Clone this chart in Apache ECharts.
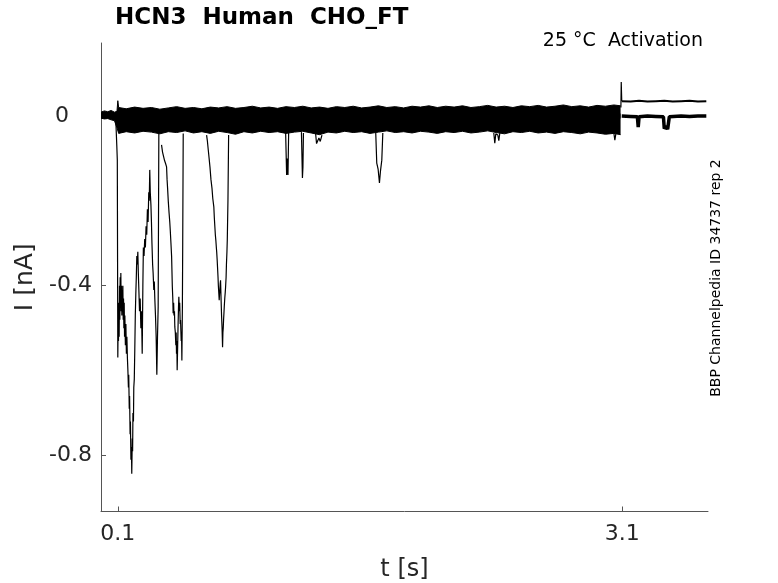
<!DOCTYPE html>
<html>
<head>
<meta charset="utf-8">
<script src="https://cdn.jsdelivr.net/npm/echarts@6/dist/echarts.min.js"></script>
<style>
  html, body { margin: 0; padding: 0; background: #fff; }
  #chart { width: 778px; height: 583px; }
</style>
</head>
<body>
<div id="chart"></div>
<script>
// tick positions
const xTicks = [0.1, 3.1];
const yTicks = [-0.8, -0.4, 0];

// envelope of the noisy baseline band (all sweeps overlaid), [t s, I nA]
const bandTop = [
    [0.0, 0.009], [0.02, 0.012], [0.04, 0.010], [0.06, 0.013], [0.08, 0.009], [0.095, 0.011],
    [0.100, 0.036], [0.105, 0.020], [0.15, 0.017], [0.20, 0.021], [0.25, 0.018], [0.30, 0.020],
    [0.35, 0.016], [0.40, 0.019], [0.45, 0.022], [0.50, 0.018], [0.55, 0.020], [0.60, 0.017],
    [0.65, 0.021], [0.70, 0.019], [0.75, 0.022], [0.80, 0.018], [0.85, 0.020], [0.90, 0.023],
    [0.95, 0.019], [1.00, 0.021], [1.05, 0.018], [1.10, 0.022], [1.15, 0.020], [1.20, 0.023],
    [1.25, 0.019], [1.30, 0.021], [1.35, 0.018], [1.40, 0.022], [1.45, 0.020], [1.50, 0.023],
    [1.55, 0.019], [1.60, 0.021], [1.65, 0.024], [1.70, 0.020], [1.75, 0.022], [1.80, 0.019],
    [1.85, 0.023], [1.90, 0.021], [1.95, 0.024], [2.00, 0.020], [2.05, 0.023], [2.10, 0.021],
    [2.15, 0.024], [2.20, 0.020], [2.25, 0.022], [2.30, 0.025], [2.35, 0.021], [2.40, 0.023],
    [2.45, 0.020], [2.50, 0.024], [2.55, 0.022], [2.60, 0.025], [2.65, 0.021], [2.70, 0.023],
    [2.75, 0.026], [2.80, 0.022], [2.85, 0.024], [2.90, 0.021], [2.95, 0.025], [3.00, 0.023],
    [3.05, 0.026], [3.09, 0.024]
];
const bandBottom = [
    [0.0, -0.005], [0.02, -0.007], [0.04, -0.006], [0.06, -0.009], [0.08, -0.011], [0.095, -0.028],
    [0.105, -0.041], [0.15, -0.037], [0.20, -0.040], [0.25, -0.036], [0.30, -0.038], [0.35, -0.042],
    [0.40, -0.037], [0.45, -0.039], [0.50, -0.035], [0.55, -0.040], [0.60, -0.037], [0.65, -0.041],
    [0.70, -0.036], [0.75, -0.039], [0.80, -0.043], [0.85, -0.037], [0.90, -0.040], [0.95, -0.036],
    [1.00, -0.039], [1.05, -0.037], [1.10, -0.041], [1.15, -0.038], [1.20, -0.036], [1.25, -0.040],
    [1.30, -0.044], [1.35, -0.038], [1.40, -0.040], [1.45, -0.036], [1.50, -0.039], [1.55, -0.037],
    [1.60, -0.041], [1.65, -0.038], [1.70, -0.035], [1.75, -0.039], [1.80, -0.037], [1.85, -0.040],
    [1.90, -0.036], [1.95, -0.038], [2.00, -0.041], [2.05, -0.037], [2.10, -0.039], [2.15, -0.036],
    [2.20, -0.040], [2.25, -0.038], [2.30, -0.035], [2.35, -0.039], [2.40, -0.042], [2.45, -0.037],
    [2.50, -0.039], [2.55, -0.036], [2.60, -0.040], [2.65, -0.038], [2.70, -0.041], [2.75, -0.037],
    [2.80, -0.039], [2.85, -0.042], [2.90, -0.038], [2.95, -0.040], [3.00, -0.043], [3.05, -0.041],
    [3.09, -0.044]
];

// large inward excursions of single sweeps
const dropA = [
    [0.088, -0.010], [0.094, -0.070], [0.097, -0.104], [0.100, -0.569], [0.102, -0.480],
    [0.104, -0.530], [0.106, -0.440], [0.108, -0.520], [0.110, -0.400], [0.112, -0.480],
    [0.114, -0.380], [0.116, -0.440], [0.118, -0.370], [0.120, -0.460], [0.122, -0.400],
    [0.124, -0.470], [0.126, -0.410], [0.128, -0.450], [0.130, -0.400], [0.132, -0.480],
    [0.134, -0.430], [0.136, -0.500], [0.138, -0.440], [0.140, -0.520], [0.142, -0.470],
    [0.145, -0.540], [0.148, -0.490], [0.151, -0.560], [0.154, -0.520], [0.157, -0.570],
    [0.160, -0.600], [0.163, -0.640], [0.165, -0.610], [0.168, -0.690], [0.170, -0.660],
    [0.173, -0.750], [0.175, -0.720], [0.178, -0.810], [0.181, -0.780], [0.183, -0.843],
    [0.186, -0.760], [0.188, -0.790], [0.190, -0.700], [0.193, -0.720], [0.195, -0.640],
    [0.198, -0.620], [0.201, -0.550], [0.204, -0.470], [0.207, -0.420], [0.210, -0.380],
    [0.213, -0.330], [0.216, -0.350], [0.219, -0.320], [0.222, -0.370], [0.226, -0.420],
    [0.229, -0.460], [0.233, -0.430], [0.237, -0.500], [0.241, -0.460], [0.245, -0.560],
    [0.249, -0.400], [0.252, -0.310], [0.256, -0.330], [0.260, -0.290], [0.264, -0.310],
    [0.268, -0.260], [0.272, -0.280], [0.276, -0.220], [0.280, -0.250], [0.284, -0.180],
    [0.287, -0.200], [0.290, -0.127], [0.293, -0.180], [0.297, -0.210], [0.300, -0.250],
    [0.303, -0.300], [0.307, -0.350], [0.310, -0.370], [0.314, -0.410], [0.317, -0.390],
    [0.320, -0.430], [0.324, -0.470], [0.328, -0.520], [0.332, -0.610], [0.336, -0.520],
    [0.340, -0.450], [0.344, -0.040]
];
const dropB = [
    [0.360, -0.068], [0.366, -0.085], [0.372, -0.095], [0.378, -0.105], [0.384, -0.112],
    [0.390, -0.120], [0.393, -0.150], [0.396, -0.170], [0.400, -0.200], [0.405, -0.229],
    [0.409, -0.250], [0.412, -0.270], [0.416, -0.300], [0.420, -0.332], [0.424, -0.400],
    [0.427, -0.430], [0.429, -0.465], [0.432, -0.440], [0.434, -0.470], [0.437, -0.460],
    [0.439, -0.497], [0.442, -0.510], [0.445, -0.540], [0.447, -0.510], [0.449, -0.560],
    [0.451, -0.530], [0.453, -0.599], [0.456, -0.540], [0.458, -0.500], [0.461, -0.450],
    [0.463, -0.426], [0.466, -0.460], [0.468, -0.440], [0.471, -0.490], [0.473, -0.481],
    [0.477, -0.530], [0.479, -0.510], [0.481, -0.576], [0.484, -0.450], [0.486, -0.300],
    [0.489, -0.041]
];
const dropC = [
    [0.628, -0.045], [0.633, -0.060], [0.638, -0.080], [0.643, -0.100], [0.648, -0.120],
    [0.654, -0.150], [0.660, -0.170], [0.665, -0.195], [0.671, -0.214], [0.674, -0.240],
    [0.677, -0.260], [0.680, -0.280], [0.683, -0.293], [0.686, -0.310], [0.688, -0.320],
    [0.691, -0.340], [0.693, -0.356], [0.696, -0.380], [0.698, -0.400], [0.701, -0.420],
    [0.703, -0.434], [0.705, -0.420], [0.707, -0.410], [0.709, -0.395], [0.711, -0.387],
    [0.714, -0.430], [0.717, -0.470], [0.720, -0.500], [0.723, -0.545], [0.725, -0.510],
    [0.727, -0.500], [0.729, -0.480], [0.731, -0.466], [0.733, -0.450], [0.736, -0.430],
    [0.739, -0.415], [0.741, -0.403], [0.744, -0.380], [0.746, -0.350], [0.749, -0.320],
    [0.751, -0.293], [0.755, -0.200], [0.759, -0.045]
];

// small downward blips later in the pulse
const blipA = [[1.098, -0.038], [1.104, -0.139], [1.108, -0.100], [1.112, -0.139], [1.116, -0.040]];
const blipB = [[1.192, -0.038], [1.198, -0.146], [1.201, -0.120], [1.204, -0.040]];
const blipC = [[1.276, -0.040], [1.282, -0.065], [1.290, -0.068], [1.296, -0.052], [1.304, -0.060], [1.314, -0.045]];
const blipD = [[1.634, -0.040], [1.640, -0.111], [1.648, -0.125], [1.656, -0.158], [1.662, -0.130], [1.670, -0.104], [1.676, -0.040]];
const blipE = [[2.336, -0.040], [2.342, -0.064], [2.348, -0.042], [2.360, -0.045], [2.366, -0.058], [2.372, -0.040]];
const blipF = [[3.050, -0.040], [3.056, -0.057], [3.062, -0.042]];

// tail currents after the step
const stepSpike = [[3.092, 0.020], [3.094, 0.080], [3.097, 0.035]];
const tailHigh = [
    [3.097, 0.035], [3.15, 0.034], [3.2, 0.036], [3.25, 0.034], [3.3, 0.035], [3.35, 0.036],
    [3.4, 0.034], [3.45, 0.035], [3.5, 0.036], [3.55, 0.034], [3.6, 0.035]
];
const tailLow = [
    [3.097, 0.000], [3.15, -0.001], [3.19, -0.002], [3.195, -0.026], [3.200, -0.002],
    [3.25, 0.000], [3.30, -0.001], [3.345, -0.002], [3.350, -0.030], [3.360, -0.024],
    [3.370, -0.031], [3.380, -0.002], [3.45, 0.000], [3.5, -0.001], [3.55, 0.000], [3.6, 0.000]
];

const chart = echarts.init(document.getElementById('chart'));

function trace(data, width) {
    return {
        type: 'line',
        data: data,
        showSymbol: false,
        lineStyle: { color: '#000', width: width || 1.2 },
        z: 3
    };
}

// the two band edges are filled towards zero; origins overlap a bit so no seam shows
function bandSide(data, origin) {
    return {
        type: 'line',
        data: data,
        showSymbol: false,
        lineStyle: { color: '#000', width: 1 },
        areaStyle: { color: '#000', opacity: 1, origin: origin },
        z: 2
    };
}

const axisColor = '#262626';
const font = 'DejaVu Sans';

chart.setOption({
    animation: false,
    title: {
        text: 'HCN3  Human  CHO_FT',
        left: 110,
        top: 2,
        textStyle: { fontFamily: font, fontSize: 23, fontWeight: 'bold', color: '#000' }
    },
    // fixed plot box, no automatic shrinking for the axis names
    grid: { left: 101, right: 70, top: 43, bottom: 71.5, outerBoundsMode: 'none', containLabel: false },
    xAxis: {
        type: 'value',
        min: 0,
        max: 3.61,
        name: 't [s]',
        nameLocation: 'middle',
        nameGap: 46,
        nameTextStyle: { fontFamily: font, fontSize: 24, color: axisColor },
        axisLine: { show: true, onZero: false, lineStyle: { color: '#555', width: 1 } },
        axisTick: { show: true, inside: true, length: 5, customValues: xTicks, lineStyle: { color: '#555' } },
        axisLabel: {
            customValues: xTicks,
            fontFamily: font, fontSize: 22, color: axisColor, margin: 12,
            formatter: v => v.toFixed(1)
        },
        splitLine: { show: false }
    },
    yAxis: {
        type: 'value',
        min: -0.932,
        max: 0.172,
        name: 'I [nA]',
        nameLocation: 'middle',
        nameGap: 51,
        nameTextStyle: { fontFamily: font, fontSize: 25, color: axisColor },
        axisLine: { show: true, onZero: false, lineStyle: { color: '#555', width: 1 } },
        axisTick: { show: true, inside: true, length: 5, customValues: yTicks, lineStyle: { color: '#555' } },
        axisLabel: {
            customValues: yTicks,
            fontFamily: font, fontSize: 22, color: axisColor, margin: 9,
            formatter: v => v === 0 ? '{z|0}' : v.toFixed(1),
            rich: {
                z: { fontFamily: font, fontSize: 22, color: axisColor, padding: [0, 23, 0, 0] }
            }
        },
        splitLine: { show: false }
    },
    graphic: [
        {
            type: 'text',
            right: 75,
            top: 32,
            style: { text: '25 \u00B0C  Activation', fontFamily: font, fontSize: 19, fill: '#000' }
        },
        {
            type: 'text',
            x: 716,
            y: 278,
            rotation: Math.PI / 2,
            style: {
                text: 'BBP Channelpedia ID 34737 rep 2',
                fontFamily: font, fontSize: 14, fill: '#000',
                align: 'center', verticalAlign: 'middle'
            }
        }
    ],
    series: [
        bandSide(bandTop, -0.006),
        bandSide(bandBottom, 0.006),
        trace(dropA),
        trace(dropB),
        trace(dropC),
        trace(blipA),
        trace(blipB),
        trace(blipC),
        trace(blipD),
        trace(blipE),
        trace(blipF),
        trace(stepSpike),
        trace(tailHigh, 2),
        trace(tailLow, 3.5)
    ]
});

window.addEventListener('resize', () => chart.resize());
</script>
</body>
</html>
